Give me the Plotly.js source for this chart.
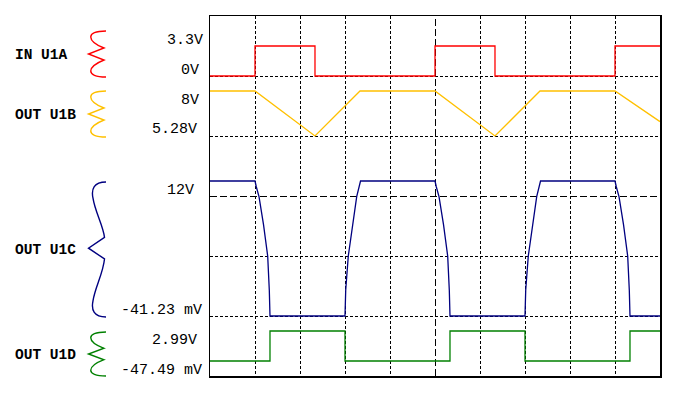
<!DOCTYPE html>
<html>
<head>
<meta charset="utf-8">
<script src="https://cdn.plot.ly/plotly-3.0.1.min.js"></script>
<style>html,body{margin:0;padding:0;background:#fff;}#chart{width:677px;height:393px;}</style>
</head>
<body>
<div id="chart"></div>
<script>
// ---- data (time in grid divisions, value in stacked display divisions) ----
var redT = [0, 1, 1, 2.333, 2.333, 5, 5, 6.333, 6.333, 9, 9, 10];
var redV = [5, 5, 5.5, 5.5, 5, 5, 5.5, 5.5, 5, 5, 5.5, 5.5];

var yellowT = [0, 1, 2.333, 3.333, 5, 6.333, 7.333, 9, 10];
var yellowV = [4.75, 4.75, 4.0, 4.75, 4.75, 4.0, 4.75, 4.75, 4.24];

var blueT = [0, 1, 1.03, 1.089, 1.19, 1.282, 1.318, 1.333,
             3.0, 3.016, 3.073, 3.167, 3.26, 3.345,
             5, 5.03, 5.089, 5.19, 5.282, 5.318, 5.333,
             7.0, 7.016, 7.073, 7.167, 7.26, 7.345,
             9, 9.03, 9.089, 9.19, 9.282, 9.318, 9.333, 10];
var blueV = [3.25, 3.25, 3.15, 2.99, 2.52, 2.0, 1.43, 1.0,
             1.0, 1.433, 2.0, 2.5, 2.99, 3.25,
             3.25, 3.15, 2.99, 2.52, 2.0, 1.43, 1.0,
             1.0, 1.433, 2.0, 2.5, 2.99, 3.25,
             3.25, 3.15, 2.99, 2.52, 2.0, 1.43, 1.0, 1.0];

var greenT = [0, 1.333, 1.333, 3.0, 3.0, 5.333, 5.333, 7.0, 7.0, 9.333, 9.333, 10];
var greenV = [0.25, 0.25, 0.75, 0.75, 0.25, 0.25, 0.75, 0.75, 0.25, 0.25, 0.75, 0.75];

var channelNames = ["IN U1A", "OUT U1B", "OUT U1C", "OUT U1D"];
var levelLabels = ["3.3V", "0V", "8V", "5.28V", "12V", "-41.23 mV", "2.99V", "-47.49 mV"];

// ---- layout helpers ----
var W = 677, H = 393;
function px(x) { return x / W; }
function py(y) { return 1 - y / H; }
function P(x, y) { return px(x).toFixed(5) + ',' + py(y).toFixed(5); }

function squiggleSmall(t, b) {
  var h = b - t;
  return 'M' + P(106, t) +
    ' C' + P(85, t) + ' ' + P(87, t + 0.22 * h) + ' ' + P(104, t + 0.37 * h) +
    ' L' + P(88.5, t + 0.5 * h) +
    ' L' + P(104, t + 0.63 * h) +
    ' C' + P(87, t + 0.78 * h) + ' ' + P(85, t + h) + ' ' + P(106, t + h);
}
function squiggleBrace(t, b) {
  var h = b - t;
  return 'M' + P(106, t) +
    ' C' + P(94, t) + ' ' + P(91, t + 0.05 * h) + ' ' + P(93, t + 0.12 * h) +
    ' C' + P(95, t + 0.22 * h) + ' ' + P(103, t + 0.32 * h) + ' ' + P(104.5, t + 0.41 * h) +
    ' L' + P(88.5, t + 0.49 * h) +
    ' L' + P(104.5, t + 0.57 * h) +
    ' C' + P(103, t + 0.68 * h) + ' ' + P(95, t + 0.78 * h) + ' ' + P(93, t + 0.88 * h) +
    ' C' + P(91, t + 0.95 * h) + ' ' + P(94, t + h) + ' ' + P(106, t + h);
}

var colors = ['#ff0000', '#ffc000', '#000080', '#008000'];

var traces = [
  {x: redT, y: redV, mode: 'lines', line: {color: colors[0], width: 1.3}},
  {x: yellowT, y: yellowV, mode: 'lines', line: {color: colors[1], width: 1.3}},
  {x: blueT, y: blueV, mode: 'lines', line: {color: colors[2], width: 1.3}},
  {x: greenT, y: greenV, mode: 'lines', line: {color: colors[3], width: 1.3}}
];

// half-pixel offsets so the 1px dashed centre lines render crisp
var hx = 0.5 / 45, hy = 0.5 / 60;
var shapes = [
  {type: 'line', xref: 'x', yref: 'y', x0: 5 + hx, x1: 5 + hx, y0: 0, y1: 6, layer: 'below',
   line: {color: '#000', width: 1, dash: '7px,3px'}},
  {type: 'line', xref: 'x', yref: 'y', x0: 0, x1: 10, y0: 3 - hy, y1: 3 - hy, layer: 'below',
   line: {color: '#000', width: 1, dash: '7px,3px'}},
  {type: 'path', xref: 'paper', yref: 'paper', path: squiggleSmall(31, 77), line: {color: colors[0], width: 1.4}},
  {type: 'path', xref: 'paper', yref: 'paper', path: squiggleSmall(91, 137), line: {color: colors[1], width: 1.4}},
  {type: 'path', xref: 'paper', yref: 'paper', path: squiggleBrace(182, 317), line: {color: colors[2], width: 1.4}},
  {type: 'path', xref: 'paper', yref: 'paper', path: squiggleSmall(332, 376), line: {color: colors[3], width: 1.4}}
];

var nameY = [55, 115, 250, 355];
var labelPos = [[164.5, 40], [179, 70], [179, 100], [149.5, 130], [164.5, 190], [119, 310], [149.5, 340], [119, 370]];

var annotations = [];
channelNames.forEach(function (n, i) {
  annotations.push({text: '<b>' + n + '</b>', xref: 'paper', yref: 'paper', x: px(13), y: py(nameY[i]),
    xanchor: 'left', yanchor: 'middle', showarrow: false,
    font: {family: 'Liberation Mono, monospace', size: 14.5, color: '#000'}});
});
levelLabels.forEach(function (l, i) {
  annotations.push({text: l, xref: 'paper', yref: 'paper', x: px(labelPos[i][0]), y: py(labelPos[i][1]),
    xanchor: 'left', yanchor: 'middle', showarrow: false,
    font: {family: 'Liberation Mono, monospace', size: 15, color: '#000'}});
});

var layout = {
  width: W, height: H,
  margin: {l: 0, r: 0, t: 0, b: 0},
  paper_bgcolor: '#fff', plot_bgcolor: '#fff',
  showlegend: false,
  xaxis: {domain: [210 / W, 660 / W], range: [0, 10], tickvals: [1, 2, 3, 4, 6, 7, 8, 9],
          showticklabels: false, ticks: '', showgrid: true, gridcolor: '#000', gridwidth: 1, griddash: '3px,2px',
          zeroline: false, showline: true, mirror: true, linecolor: '#000', linewidth: 1.5, fixedrange: true},
  yaxis: {domain: [17 / H, 377 / H], range: [0, 6], tickvals: [1, 2, 4, 5],
          showticklabels: false, ticks: '', showgrid: true, gridcolor: '#000', gridwidth: 1, griddash: '3px,2px',
          zeroline: false, showline: true, mirror: true, linecolor: '#000', linewidth: 1.5, fixedrange: true},
  shapes: shapes,
  annotations: annotations
};

Plotly.newPlot('chart', traces, layout, {displayModeBar: false, staticPlot: true});
</script>
</body>
</html>
